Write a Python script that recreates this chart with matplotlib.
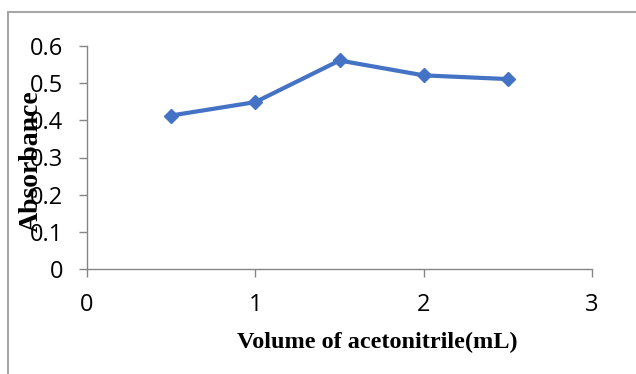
import matplotlib
matplotlib.use('Agg')
import matplotlib.pyplot as plt
from matplotlib.lines import Line2D

volume = [0.5, 1.0, 1.5, 2.0, 2.5]
absorbance = [0.413, 0.449, 0.561, 0.521, 0.511]
x_ticks = [0, 1, 2, 3]
y_ticks = [0, 0.1, 0.2, 0.3, 0.4, 0.5, 0.6]

axis_c = '#868686'

fig = plt.figure(figsize=(6.36, 3.74), dpi=100)
ax = fig.add_axes([87 / 636, 105 / 374, 505 / 636, 223 / 374])

ax.plot(volume, absorbance, color='#4472C4', lw=3, marker='D', ms=7,
        markerfacecolor='#4472C4', markeredgecolor='#4472C4')

ax.set_xlim(0, 3)
ax.set_ylim(0, 0.6)
ax.set_xticks(x_ticks)
ax.set_yticks(y_ticks)
ax.set_xticklabels([str(v) for v in x_ticks])
ax.set_yticklabels(['0' if v == 0 else f'{v:.1f}' for v in y_ticks])

for s in ['top', 'right']:
    ax.spines[s].set_visible(False)
for s in ['left', 'bottom']:
    ax.spines[s].set_color(axis_c)
    ax.spines[s].set_linewidth(1.0)

ax.tick_params(axis='both', direction='out', length=6, width=1.0, color=axis_c,
               labelsize=17, labelcolor='black')
ax.tick_params(axis='y', pad=11)
ax.tick_params(axis='x', pad=11)
for lbl in ax.get_xticklabels() + ax.get_yticklabels():
    lbl.set_family('Open Sans')

fig.text(377 / 636, 1 - 342 / 374, 'Volume of acetonitrile(mL)',
         ha='center', va='center', fontsize=17.5, fontweight='bold',
         family='Liberation Serif')
fig.text(31 / 636, 1 - 161 / 374, 'Absorbance', rotation=90,
         ha='center', va='center', fontsize=20, fontweight='bold',
         family='Liberation Serif')

# frame round the chart (cut off at right and bottom)
frame_c = '#A6A6A6'
fig.lines.append(Line2D([8 / 636, 8 / 636], [0, 1 - 12 / 374],
                        transform=fig.transFigure, color=frame_c, lw=1.5))
fig.lines.append(Line2D([8 / 636, 1], [1 - 12 / 374, 1 - 12 / 374],
                        transform=fig.transFigure, color=frame_c, lw=1.5))

fig.savefig('out.png', dpi=100, facecolor='white')
